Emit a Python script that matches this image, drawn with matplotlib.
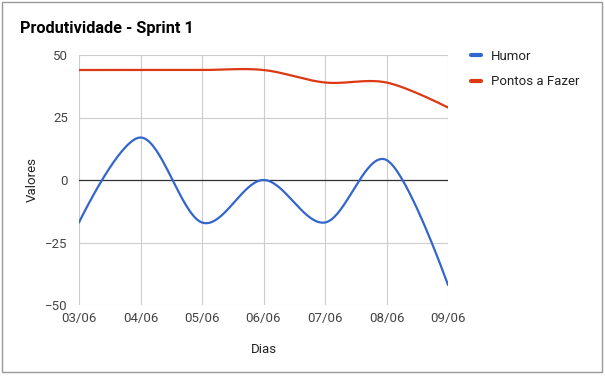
import numpy as np
import matplotlib.pyplot as plt
from matplotlib.patches import Rectangle

plt.rcParams['font.family'] = ['Roboto', 'DejaVu Sans']

# data
dias = ['03/06', '04/06', '05/06', '06/06', '07/06', '08/06', '09/06']
humor = [-17, 17, -17, 0, -17, 8, -42]
pontos = [44, 44, 44, 44, 39, 39, 29]


def smooth(y, n=40, k=1 / 6):
    # bezier through the points (control points like a cardinal spline),
    # end segments use the end point itself as control point
    p = np.column_stack([np.arange(len(y)), np.asarray(y, dtype=float)])
    t = np.linspace(0, 1, n)[:, None]
    out = []
    for i in range(len(p) - 1):
        a, b = p[i], p[i + 1]
        c1 = a if i == 0 else a + (b - p[i - 1]) * k
        c2 = b if i == len(p) - 2 else b - (p[i + 2] - a) * k
        seg = ((1 - t)**3 * a + 3 * (1 - t)**2 * t * c1
               + 3 * (1 - t) * t**2 * c2 + t**3 * b)
        out.append(seg)
    out = np.vstack(out)
    return out[:, 0], out[:, 1]


fig = plt.figure(figsize=(6.05, 3.76), dpi=100)
ax = fig.add_axes([79 / 605, 1 - 305 / 376, (448 - 79) / 605, (305 - 55) / 376])

x = np.arange(len(dias))
hx, hy = smooth(humor)
px, py = smooth(pontos)
ax.plot(hx, hy, color='#3366cc', lw=1.6, label='Humor', solid_capstyle='round')
ax.plot(px, py, color='#dc3912', lw=1.6, label='Pontos a Fazer', solid_capstyle='round')

ax.set_xlim(0, len(dias) - 1)
ax.set_ylim(-50, 50)
ax.set_xticks(x)
ax.set_xticklabels(dias)
ax.set_yticks([-50, -25, 0, 25, 50])
ax.grid(True, color='#cccccc', lw=0.8)
ax.set_axisbelow(True)
ax.axhline(0, color='#333333', lw=0.9, zorder=1)
for s in ax.spines.values():
    s.set_visible(False)
ax.tick_params(length=0, labelsize=9.5, labelcolor='#444444')
ax.tick_params(axis='x', pad=5)
ax.tick_params(axis='y', pad=8)

ax.set_xlabel('Dias', fontsize=9.5, color='#222222', labelpad=13)
ax.set_ylabel('Valores', fontsize=9.5, color='#222222', labelpad=5)

fig.text(20 / 605, 1 - 28 / 376, 'Produtividade - Sprint 1', fontsize=11.7,
         fontweight='bold', color='#000000', va='center', ha='left')

fig.legend(loc='upper left', bbox_to_anchor=(459 / 605, 1 - 38 / 376),
           frameon=False, handlelength=0.8, handletextpad=0.7,
           labelspacing=0.95, fontsize=9.5, labelcolor='#222222')
for line in fig.legends[0].get_lines():
    line.set_linewidth(3)

fig.patches.append(Rectangle((2 / 605, 4 / 376), 600 / 605, 370 / 376,
                             transform=fig.transFigure, fill=False,
                             edgecolor='#999999', lw=1))

fig.savefig('out.png', dpi=100)
